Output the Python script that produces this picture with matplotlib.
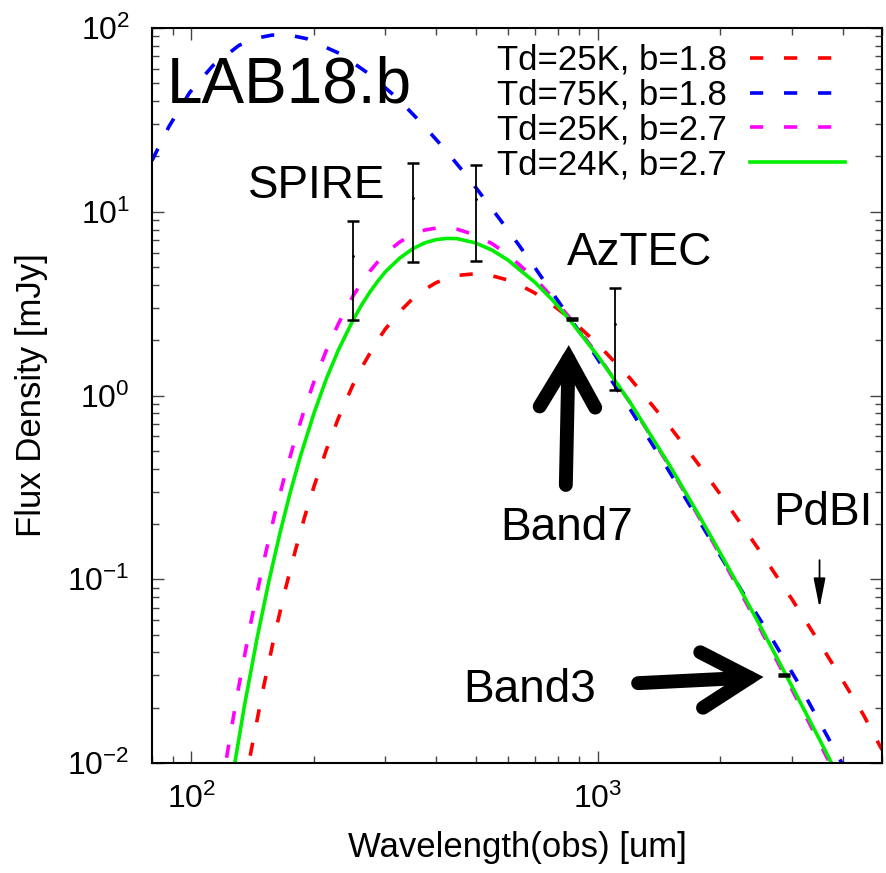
import matplotlib
matplotlib.use('Agg')
import matplotlib.pyplot as plt
from matplotlib.ticker import NullFormatter

plt.rcParams['font.family'] = ['Liberation Sans', 'DejaVu Sans']
plt.rcParams['axes.unicode_minus'] = False
plt.rcParams['lines.scale_dashes'] = False

# model SEDs: wavelength [um], flux density [mJy]
wl_red = [135, 140, 150, 160, 170, 180, 190, 200, 215, 230, 250, 262, 275, 287, 300, 325,
          350, 375, 400, 425, 450, 500, 550, 600, 650, 700, 775, 850, 1000, 1200, 1500,
          1750, 2000, 2500, 3000, 3500, 4000, 4500, 5000]
fl_red = [0.0072, 0.0114, 0.025, 0.049, 0.087, 0.142, 0.219, 0.317, 0.509, 0.754, 1.15,
          1.41, 1.70, 1.99, 2.30, 2.85, 3.36, 3.78, 4.11, 4.35, 4.50, 4.60, 4.48, 4.25,
          3.94, 3.61, 3.10, 2.65, 1.90, 1.24, 0.681, 0.435, 0.290, 0.143, 0.078, 0.0455,
          0.0282, 0.0183, 0.0118]

wl_blue = [80, 88, 99, 113, 131, 145, 158, 175, 192, 232, 275, 321, 366, 417, 478, 538,
           610, 683, 766, 858, 961, 1206, 1489, 1869, 2255, 2630, 3119, 3936, 4200]
fl_blue = [19.0, 29.0, 44.5, 62.5, 80.5, 88.2, 91.5, 91.3, 87.5, 72.5, 55.8, 41.5, 30.8,
           22.3, 15.5, 11.0, 7.60, 5.37, 3.72, 2.60, 1.80, 0.83, 0.395, 0.172, 0.087,
           0.051, 0.027, 0.0105, 0.0080]

wl_mag = [115, 120, 125, 130, 140, 150, 160, 170, 180, 190, 200, 215, 230, 250, 262, 275,
          287, 300, 325, 350, 375, 400, 425, 450, 500, 550, 600, 700, 775, 850, 1000, 1200,
          1500, 1750, 2000, 2250, 2500, 3000, 3500, 4000]
fl_mag = [0.0046, 0.0085, 0.0147, 0.0243, 0.0579, 0.120, 0.222, 0.372, 0.579, 0.848, 1.18,
          1.77, 2.46, 3.49, 4.09, 4.75, 5.32, 5.92, 6.83, 7.53, 7.95, 8.15, 8.17, 8.04,
          7.47, 6.69, 5.85, 4.33, 3.40, 2.67, 1.66, 0.914, 0.411, 0.229, 0.135, 0.0839,
          0.0544, 0.0252, 0.0130, 0.0073]

wl_grn = [125, 135, 145, 155, 165, 175, 185, 200, 215, 230, 250, 262, 275, 287, 300, 325,
          350, 375, 400, 425, 450, 500, 550, 600, 700, 775, 850, 1000, 1200, 1500, 1750,
          2000, 2250, 2500, 3000, 3500, 4000]
fl_grn = [0.0074, 0.0204, 0.0475, 0.0968, 0.177, 0.296, 0.459, 0.795, 1.24, 1.77, 2.58,
          3.10, 3.66, 4.17, 4.71, 5.58, 6.28, 6.77, 7.05, 7.16, 7.14, 6.77, 6.17, 5.47,
          4.13, 3.29, 2.60, 1.64, 0.918, 0.418, 0.234, 0.139, 0.0867, 0.0564, 0.0262,
          0.0136, 0.0076]

# photometry
spire_wl = [250, 350, 500]
spire_fl = [5.74, 11.9, 11.7]
spire_err = [3.16, 6.55, 6.3]
aztec_wl = [1100]
aztec_fl = [2.46]
aztec_err = [1.39]
alma_wl = [865, 2870]
alma_fl = [2.61, 0.0301]
alma_err = [0.03, 0.00035]
pdbi_wl = 3510
pdbi_lim = 0.127

fig = plt.figure(figsize=(8.87, 8.73), dpi=100)
ax = fig.add_axes([152/887, 110/873, 730/887, 735/873])
ax.set_xscale('log')
ax.set_yscale('log')
ax.set_xlim(80, 5000)
ax.set_ylim(0.01, 100)

dash = (9.5, 15)
ax.plot(wl_red, fl_red, color='#ff0000', lw=2.6, dashes=dash, label='Td=25K, b=1.8')
ax.plot(wl_blue, fl_blue, color='#0000ff', lw=2.6, dashes=dash, label='Td=75K, b=1.8')
ax.plot(wl_mag, fl_mag, color='#ff00ff', lw=2.6, dashes=dash, label='Td=25K, b=2.7')
ax.plot(wl_grn, fl_grn, color='#00ee00', lw=2.6, label='Td=24K, b=2.7')

for wl, fl, err in [(spire_wl, spire_fl, spire_err), (aztec_wl, aztec_fl, aztec_err),
                    (alma_wl, alma_fl, alma_err)]:
    ax.errorbar(wl, fl, yerr=err, fmt='.', ms=2, color='black', ecolor='black',
                elinewidth=1.3, capsize=4, capthick=1.8)

# PdBI upper limit
ax.annotate('', xy=(pdbi_wl, pdbi_lim * 0.55), xytext=(pdbi_wl, pdbi_lim),
            arrowprops=dict(arrowstyle='-|>,head_length=1.8,head_width=0.36', lw=1.3,
                            color='black', shrinkA=0, shrinkB=0, mutation_scale=10))

# big arrows
big = dict(arrowstyle='->,head_length=3.46,head_width=2.0', lw=10, color='black',
           shrinkA=0, shrinkB=0, mutation_scale=10, capstyle='round', joinstyle='miter')
ax.annotate('', xy=(848, 1.88), xytext=(834, 0.326), arrowprops=big)
ax.annotate('', xy=(2555, 0.0294), xytext=(1256, 0.0272), arrowprops=big)

# labels
ax.text(86.8, 39.5, 'LAB18.b', fontsize=46, va='baseline')
ax.text(138, 11.9, 'SPIRE', fontsize=33, va='baseline')
ax.text(838, 5.13, 'AzTEC', fontsize=33, va='baseline')
ax.text(576, 0.1635, 'Band7', fontsize=33, va='baseline')
ax.text(2704, 0.197, 'PdBI', fontsize=33, va='baseline')
ax.text(466, 0.0215, 'Band3', fontsize=33, va='baseline')

ax.set_xlabel('Wavelength(obs) [um]', fontsize=25)
ax.set_ylabel('Flux Density [mJy]', fontsize=25)
ax.xaxis.set_label_coords(0.5, -0.093)
ax.yaxis.set_label_coords(-0.143, 0.5)

for s in ax.spines.values():
    s.set_linewidth(1.5)
ax.tick_params(which='both', direction='in', top=True, right=True, color='#444444')
ax.tick_params(which='major', length=8.6, width=1.0, labelsize=23)
ax.tick_params(which='minor', length=5, width=1.0)
ax.tick_params(axis='y', which='major', pad=16)
ax.tick_params(axis='x', which='major', pad=15)
ax.xaxis.set_minor_formatter(NullFormatter())
ax.yaxis.set_minor_formatter(NullFormatter())

ax.legend(loc='upper right', bbox_to_anchor=(845/887, 1 - 44/873),
          bbox_transform=fig.transFigure, frameon=False, markerfirst=False,
          fontsize=25, handlelength=2.74, handletextpad=0.66, labelspacing=0.05,
          borderpad=0, borderaxespad=0)

fig.savefig('out.png', dpi=100)
